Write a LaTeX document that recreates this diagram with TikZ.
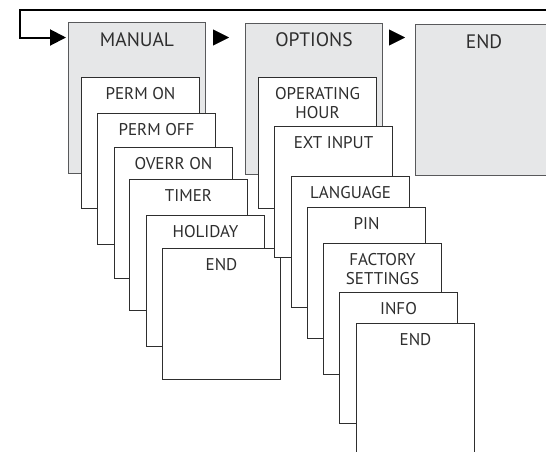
\documentclass[tikz,border=0pt]{standalone}
\usepackage{fontspec}
\setmainfont{PT Sans}
\usetikzlibrary{positioning,arrows.meta}

\definecolor{panel}{HTML}{E6E7E8}
\definecolor{rim}{HTML}{58595B}
\definecolor{ink}{HTML}{2E2E2E}

\tikzset{
  menubox/.style={draw=rim, fill=panel, line width=1pt, anchor=north west,
    inner sep=0pt, minimum width=137pt, minimum height=151pt},
  subbox/.style={draw=ink, fill=white, line width=1pt, anchor=north west,
    inner sep=0pt, minimum width=118pt, minimum height=131pt},
  sublab/.style={inner sep=0pt, align=center, text=ink,
    font=\fontsize{17}{19.5}\selectfont},
  headlab/.style={sublab, font=\fontsize{19.5}{22}\selectfont},
  pointer/.style={-{Triangle[length=16pt,width=16pt]}, black},
  loopline/.style={line width=2pt, black, -{Triangle[length=16pt,width=16pt]}},
}

\begin{document}
\begin{tikzpicture}[x=1pt,y=-1pt]
  \useasboundingbox (0,0) rectangle (546,451);
  \clip (0,0) rectangle (546,451);

  % main menu
  \node[menubox] (manual) at (68,22) {};
  \node[headlab, below=10pt of manual.north] (manualt) {MANUAL};
  \node[menubox] (options) at (245,22.5) {};
  \node[headlab, below=10pt of options.north] (optionst) {OPTIONS};
  \node[menubox] (end) at (415,24) {};
  \node[headlab, below=10pt of end.north] (endt) {END};

  % return path and steps
  \coordinate (loopin) at (560,10);
  \coordinate (turn) at (20,37.5);
  \draw[loopline, shorten >=2pt] (loopin) -| (turn) -- (turn -| manual.west);
  \draw[pointer, shorten <=8pt, shorten >=16pt] (turn -| manual.east) -- (turn -| options.west);
  \draw[pointer, shorten <=6pt, shorten >=10pt] (turn -| options.east) -- (turn -| end.west);

  % MANUAL submenu
  \node[subbox] (m1) at (81,77) {};
  \node[sublab, below=10pt of m1.north] (m1t) {PERM ON};
  \node[subbox] (m2) at (97,113) {};
  \node[sublab, below=10pt of m2.north] (m2t) {PERM OFF};
  \node[subbox] (m3) at (114,147) {};
  \node[sublab, below=10pt of m3.north] (m3t) {OVERR ON};
  \node[subbox] (m4) at (129,179) {};
  \node[sublab, below=10pt of m4.north] (m4t) {TIMER};
  \node[subbox] (m5) at (146,215) {};
  \node[sublab, below=10pt of m5.north] (m5t) {HOLIDAY};
  \node[subbox] (m6) at (162,248) {};
  \node[sublab, below=10pt of m6.north] (m6t) {END};

  % OPTIONS submenu
  \node[subbox] (o1) at (258,77) {};
  \node[sublab, below=10pt of o1.north] (o1t) {OPERATING\\HOUR};
  \node[subbox] (o2) at (274,126) {};
  \node[sublab, below=10pt of o2.north] (o2t) {EXT INPUT};
  \node[subbox] (o3) at (291,176) {};
  \node[sublab, below=10pt of o3.north] (o3t) {LANGUAGE};
  \node[subbox] (o4) at (307,207) {};
  \node[sublab, below=10pt of o4.north] (o4t) {PIN};
  \node[subbox] (o5) at (323,243) {};
  \node[sublab, below=10pt of o5.north] (o5t) {FACTORY\\SETTINGS};
  \node[subbox] (o6) at (339,292) {};
  \node[sublab, below=10pt of o6.north] (o6t) {INFO};
  \node[subbox] (o7) at (356,323) {};
  \node[sublab, below=10pt of o7.north] (o7t) {END};
\end{tikzpicture}
\end{document}
